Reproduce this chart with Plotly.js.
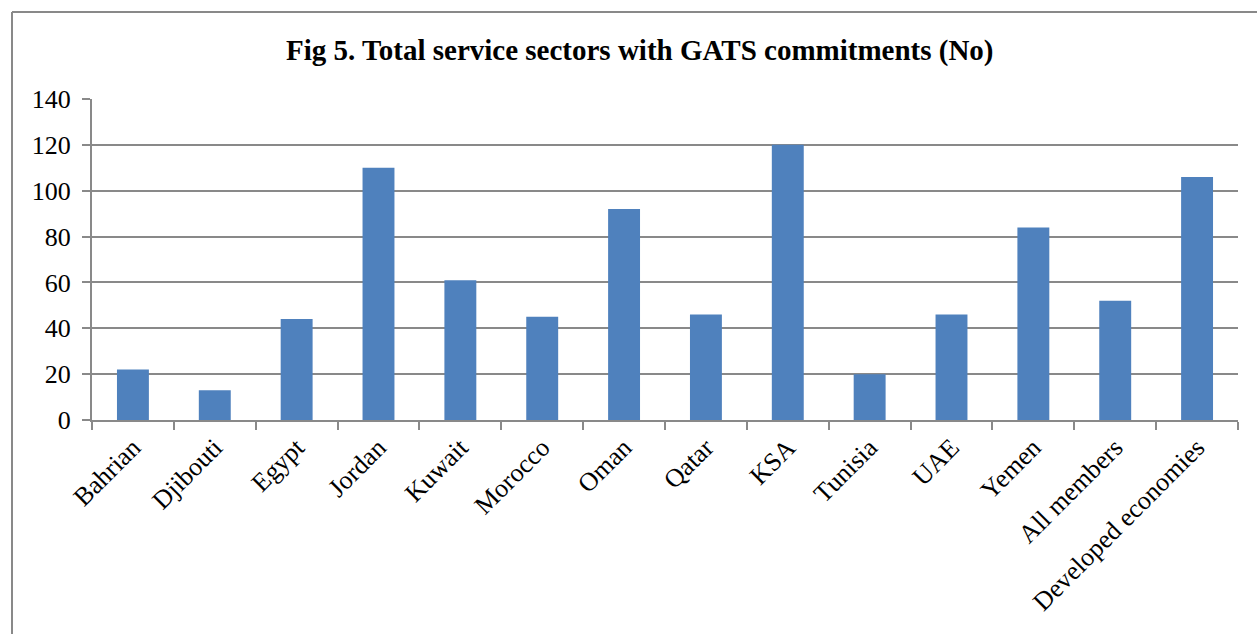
<!DOCTYPE html>
<html>
<head>
<meta charset="utf-8">
<script src="https://cdn.plot.ly/plotly-3.0.1.min.js"></script>
<style>html,body{margin:0;padding:0;background:#fff;}#chart{width:1257px;height:634px;}</style>
</head>
<body>
<div id="chart"></div>
<script>
const categories = ["Bahrian", "Djibouti", "Egypt", "Jordan", "Kuwait", "Morocco", "Oman", "Qatar", "KSA", "Tunisia", "UAE", "Yemen", "All members", "Developed economies"];
const values = [22, 13, 44, 110, 61, 45, 92, 46, 120, 20, 46, 84, 52, 106];
const yTicks = [0, 20, 40, 60, 80, 100, 120, 140];
const titleText = "Fig 5. Total service sectors with GATS commitments (No)";

const gray = "#898989";
const serif = "Liberation Serif, Times New Roman, serif";
const trace = {
  type: "bar",
  x: categories,
  y: values,
  marker: {color: "#4F81BD", line: {width: 0}},
  hoverinfo: "x+y"
};

const layout = {
  width: 1257, height: 634,
  margin: {l: 92, r: 19, t: 99, b: 214},
  paper_bgcolor: "#fff", plot_bgcolor: "#fff",
  bargap: 0.61,
  showlegend: false,
  font: {family: serif, color: "#000"},
  title: {
    text: "<b>" + titleText + "</b>",
    font: {family: serif, size: 29, color: "#000"},
    xref: "container", x: 0.509, xanchor: "center",
    yref: "container", y: 1 - 50/634, yanchor: "middle"
  },
  xaxis: {
    type: "category",
    tickson: "boundaries",
    ticks: "outside", ticklen: 8, tickwidth: 2, tickcolor: gray,
    showline: true, linecolor: gray, linewidth: 2,
    showgrid: false,
    tickangle: -45,
    tickfont: {family: serif, size: 26, color: "#000"},
    automargin: false
  },
  yaxis: {
    range: [0, 140],
    tickmode: "array", tickvals: yTicks, ticktext: yTicks.map(String),
    ticks: "outside", ticklen: 8, tickwidth: 2, tickcolor: gray,
    showline: true, linecolor: gray, linewidth: 2,
    showgrid: true, gridcolor: gray, gridwidth: 2,
    zeroline: false,
    ticklabelstandoff: 6,
    tickfont: {family: serif, size: 26, color: "#000"},
    automargin: false
  },
  shapes: [
    {type: "line", xref: "paper", yref: "paper", x0: (12-92)/1146, x1: (1265-92)/1146, y0: (420-12)/321, y1: (420-12)/321, line: {color: gray, width: 2}},
    {type: "line", xref: "paper", yref: "paper", x0: (12-92)/1146, x1: (12-92)/1146, y0: (420-12)/321, y1: (420-640)/321, line: {color: gray, width: 2}}
  ]
};

Plotly.newPlot("chart", [trace], layout, {displayModeBar: false, staticPlot: true});
</script>
</body>
</html>
